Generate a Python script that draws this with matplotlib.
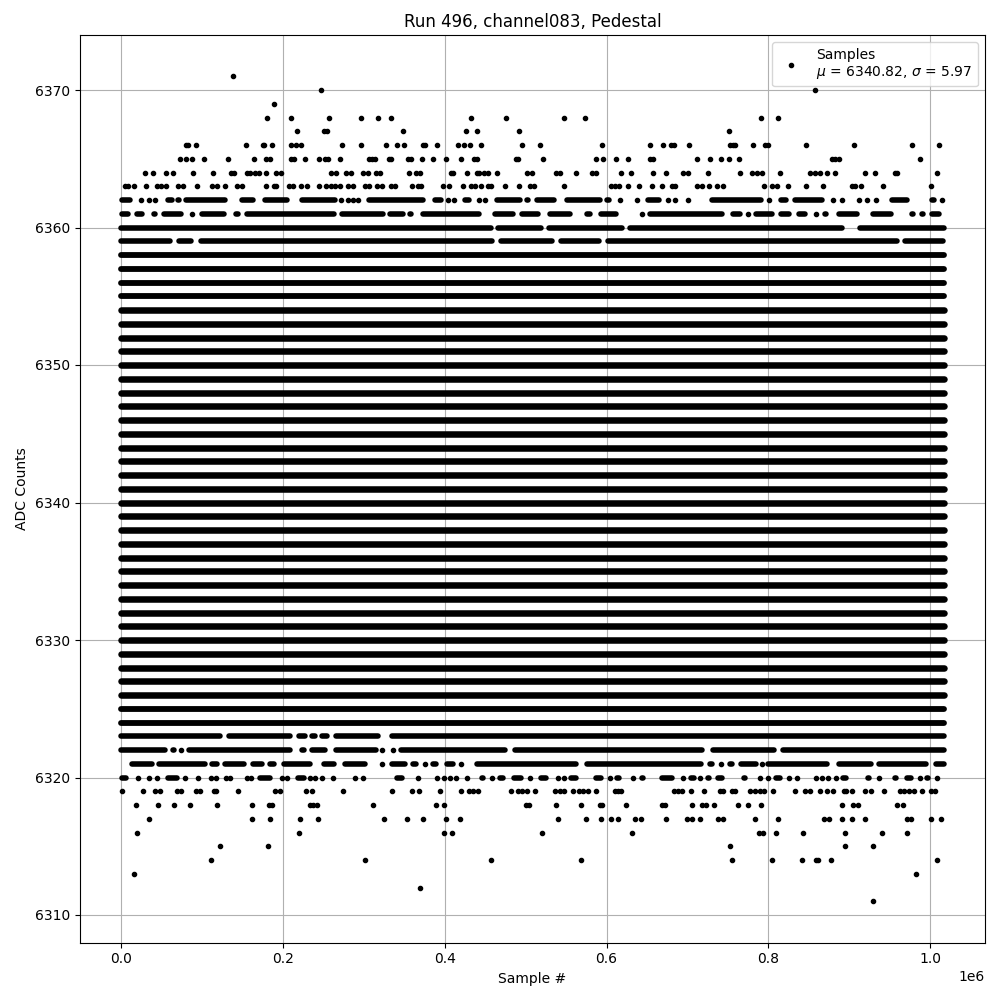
import matplotlib
matplotlib.use('Agg')
import matplotlib.pyplot as plt

# x values in thousands of samples
full_levels = [6324, 6325, 6326, 6327, 6328, 6329, 6330, 6331, 6332, 6333, 6334, 6335,
               6336, 6337, 6338, 6339, 6340, 6341, 6342, 6343, 6344, 6345, 6346, 6347,
               6348, 6349, 6350, 6351, 6352, 6353, 6354, 6355, 6356, 6357, 6358]
thin_levels = [6324, 6325, 6355, 6356, 6357, 6358]
full_span = (0, 1017)

# sparse levels, single samples
pts_6371 = [138]
pts_6370 = [247, 858]
pts_6369 = [189]
pts_6368 = [180, 210, 257, 297, 318, 333, 433, 476, 548, 574, 791, 812]
pts_6367 = [218, 251, 254, 348, 426, 440, 492, 752]
pts_6366 = [80, 83, 92, 154, 175, 177, 186, 210, 216, 222, 273, 296, 328, 341, 350, 373, 376,
            390, 416, 424, 431, 445, 495, 518, 594, 654, 670, 680, 684, 702, 753, 756, 759,
            781, 796, 800, 847, 906, 977, 1011]
pts_6365 = [73, 80, 87, 102, 132, 164, 179, 184, 210, 214, 227, 244, 252, 256, 271, 306, 310,
            314, 331, 334, 354, 358, 372, 386, 402, 420, 436, 440, 488, 491, 521, 587, 596,
            612, 627, 654, 657, 712, 728, 742, 751, 764, 879, 882, 887, 988]
pts_6364 = [30, 40, 55, 64, 89, 113, 136, 140, 155, 159, 166, 171, 179, 192, 197, 260, 265,
            278, 284, 299, 305, 315, 320, 356, 365, 370, 408, 410, 428, 440, 442, 449, 454,
            464, 502, 508, 537, 542, 562, 582, 587, 618, 630, 657, 674, 695, 701, 726, 765,
            780, 786, 792, 814, 852, 858, 864, 872, 883, 920, 932, 957, 959, 1009]
pts_6363 = [5, 9, 16, 31, 44, 49, 56, 70, 76, 94, 112, 119, 129, 143, 149, 179, 189, 192, 207,
            213, 222, 230, 245, 253, 259, 264, 271, 280, 286, 301, 307, 316, 322, 333, 339,
            359, 367, 371, 398, 405, 422, 433, 438, 445, 454, 457, 475, 492, 506, 510, 548,
            606, 611, 616, 627, 640, 656, 668, 681, 685, 712, 718, 727, 737, 744, 795, 805,
            811, 824, 847, 868, 903, 907, 915, 942, 1001]
pts_6362 = [24, 35, 42, 272, 280, 286, 293, 404, 412, 442, 450, 617, 638, 676, 685, 701, 801,
            880, 891, 912, 922, 933, 1015]
pts_6361 = [87, 644, 775, 859]
pts_6322 = [74, 323, 336]
pts_6321 = [322, 375, 420, 742, 792]
pts_6320 = [21, 35, 44, 79, 95, 111, 117, 130, 135, 156, 161, 199, 205, 234, 240, 248, 262,
            289, 299, 367, 390, 399, 407, 414, 428, 458, 506, 540, 547, 604, 633, 694, 716,
            790, 799, 825, 835, 859, 866, 874, 884, 937, 987, 1008]
pts_6319 = [1, 27, 42, 48, 69, 74, 92, 97, 115, 117, 145, 190, 196, 229, 236, 274, 335, 360,
            368, 394, 420, 430, 435, 441, 482, 490, 496, 502, 512, 536, 542, 547, 558, 566,
            571, 577, 587, 610, 614, 618, 683, 688, 693, 704, 720, 740, 744, 755, 759, 777,
            784, 790, 795, 806, 833, 845, 851, 864, 873, 880, 893, 896, 903, 919, 927, 943,
            963, 968, 974, 980, 990, 1001, 1006]
pts_6318 = [18, 45, 65, 85, 118, 162, 183, 186, 233, 237, 242, 311, 389, 399, 501, 504, 538,
            569, 592, 595, 624, 669, 672, 706, 718, 723, 733, 763, 775, 791, 891, 905, 911,
            959, 966]
pts_6317 = [34, 162, 184, 221, 243, 325, 353, 373, 402, 419, 540, 575, 593, 606, 614, 635,
            643, 674, 699, 706, 716, 738, 744, 784, 812, 869, 875, 891, 904, 920, 971, 976,
            1001, 1013]
pts_6316 = [19, 220, 399, 409, 520, 631, 788, 793, 809, 843, 895, 941, 972]
pts_6315 = [122, 181, 753, 895, 930]
pts_6314 = [111, 302, 457, 568, 755, 805, 842, 859, 862, 878, 1008]
pts_6313 = [16, 983]
pts_6312 = [369]
pts_6311 = [930]

# runs where the dots merge into a bar, outer edges of the blobs
spans_6362 = [(-2, 14), (55, 66), (70, 72), (77, 132), (146, 167), (174, 209), (220, 268),
              (303, 376), (385, 399), (422, 434), (461, 496), (498, 506), (511, 539),
              (548, 595), (597, 607), (648, 668), (727, 794), (812, 825), (829, 870),
              (950, 975), (999, 1008)]
spans_6361 = [(-2, 12), (16, 29), (37, 45), (49, 77), (96, 131), (138, 148), (152, 267),
              (270, 327), (329, 352), (354, 362), (370, 446), (459, 488), (492, 519),
              (527, 558), (573, 583), (590, 615), (623, 630), (650, 746), (753, 769),
              (781, 808), (812, 829), (835, 849), (868, 874), (884, 913), (926, 955),
              (976, 981), (987, 994), (999, 1014)]
spans_6360 = [(-3, 460), (463, 522), (525, 622), (626, 894), (910, 1020)]
spans_6359 = [(-3, 64), (68, 90), (95, 462), (466, 536), (540, 594), (598, 962), (966, 1019)]
spans_6323 = [(-3, 126), (130, 212), (216, 231), (233, 243), (245, 258), (262, 321), (332, 1020)]
spans_6322 = [(-3, 58), (62, 68), (80, 212), (220, 229), (232, 255), (262, 319), (343, 478),
              (484, 722), (728, 811), (815, 1020)]
spans_6321 = [(-2, 4), (10, 41), (44, 107), (109, 122), (125, 155), (159, 177), (181, 192),
              (198, 237), (247, 266), (273, 305), (332, 354), (357, 368), (382, 393),
              (400, 414), (426, 433), (437, 566), (573, 720), (724, 734), (749, 759),
              (763, 788), (796, 876), (884, 930), (934, 998), (1004, 1020)]
spans_6320 = [(-2, 9), (55, 72), (168, 187), (215, 229), (337, 350), (444, 450), (465, 476),
              (482, 498), (516, 529), (553, 566), (584, 597), (610, 619), (641, 649),
              (665, 684), (701, 711), (722, 730), (735, 746), (767, 775), (806, 818),
              (889, 899), (909, 915), (920, 928), (953, 961), (968, 980), (994, 1000)]

points = [(6371, pts_6371), (6370, pts_6370), (6369, pts_6369), (6368, pts_6368),
          (6367, pts_6367), (6366, pts_6366), (6365, pts_6365), (6364, pts_6364),
          (6363, pts_6363), (6362, pts_6362), (6361, pts_6361), (6322, pts_6322),
          (6321, pts_6321), (6320, pts_6320), (6319, pts_6319), (6318, pts_6318),
          (6317, pts_6317), (6316, pts_6316), (6315, pts_6315), (6314, pts_6314),
          (6313, pts_6313), (6312, pts_6312), (6311, pts_6311)]
spans = [(6362, spans_6362), (6361, spans_6361), (6360, spans_6360), (6359, spans_6359),
         (6323, spans_6323), (6322, spans_6322), (6321, spans_6321), (6320, spans_6320)]

fig, ax = plt.subplots(figsize=(10, 10), dpi=100)

xs = []
ys = []
for level, vals in points:
    for v in vals:
        xs.append(v * 1000)
        ys.append(level)
ax.plot(xs, ys, 'k.', label='Samples\n$\\mu$ = 6340.82, $\\sigma$ = 5.97')

# partial rows: the numbers are blob edges, so pull the ends in by the round cap
cap = 3.4
for level, runs in spans:
    for a, b in runs:
        start = a + cap
        end = b - cap
        if end <= start:
            start = (a + b) / 2 - 0.5
            end = (a + b) / 2 + 0.5
        ax.plot([start * 1000, end * 1000], [level, level], color='k', lw=4,
                solid_capstyle='round')

# solid rows
for level in full_levels:
    width = 4.2 if level in thin_levels else 4.7
    ax.plot([full_span[0] * 1000, full_span[1] * 1000], [level, level], color='k', lw=width,
            solid_capstyle='round')

ax.set_xlim(-50850, 1067850)
ax.set_ylim(6308, 6374)
ax.set_title('Run 496, channel083, Pedestal')
ax.set_xlabel('Sample #')
ax.set_ylabel('ADC Counts')
ax.grid(True)
ax.legend(loc='upper right')
fig.subplots_adjust(left=0.08, right=0.985, top=0.965, bottom=0.0575)
fig.savefig('out.png')
